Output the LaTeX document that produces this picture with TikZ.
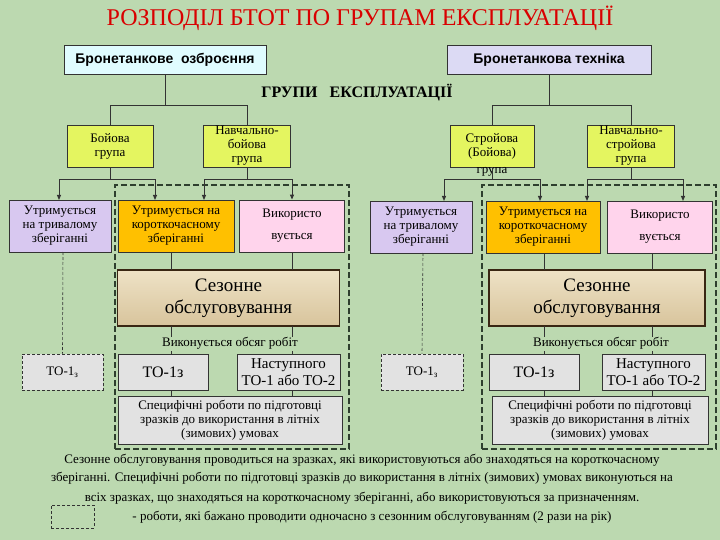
\documentclass[tikz,border=0pt]{standalone}
\usepackage{fontspec}
\setmainfont{Liberation Serif}
\setsansfont{Liberation Sans}
\usetikzlibrary{arrows.meta}
\definecolor{bg}{HTML}{BCD9B0}
\definecolor{cyanbox}{HTML}{E0FCFF}
\definecolor{lavbox}{HTML}{DCDAF4}
\definecolor{grp}{HTML}{E4F560}
\definecolor{lil}{HTML}{D8C8F0}
\definecolor{org}{HTML}{FFC000}
\definecolor{pnk}{HTML}{FFD4EC}
\definecolor{gry}{HTML}{E2E2E2}
\definecolor{tan}{HTML}{EEE2C6}
\definecolor{tand}{HTML}{D8C49C}
\definecolor{dk}{HTML}{2E3F2E}
\begin{document}
\begin{tikzpicture}[x=1pt,y=-1pt,
 box/.style={draw=black!80,line width=0.8pt,align=center,inner sep=1pt,font=\fontsize{13}{14}\selectfont},
 ln/.style={draw=black!80,line width=0.7pt},
 arr/.style={ln,line width=1pt,-{Triangle[length=5pt,width=4pt]}},
 dsh/.style={draw=dk,line width=1.4pt,dash pattern=on 6pt off 3pt},
 tdsh/.style={draw=black!80,line width=0.6pt,dash pattern=on 3pt off 2pt},
 ft/.style={font=\fontsize{13}{13}\selectfont}]
\useasboundingbox (0,0) rectangle (720,540);
\fill[bg] (0,0) rectangle (720,540);
\node[text=red!85!black,font=\fontsize{24}{24}\selectfont] (title) at (360,18) {РОЗПОДІЛ БТОТ ПО ГРУПАМ ЕКСПЛУАТАЦІЇ};
\node[box,fill=cyanbox,font=\sffamily\bfseries\fontsize{14}{14}\selectfont,minimum width=202pt,minimum height=29pt] (ba) at (165,59.5) {Бронетанкове\ \ озброєння};
\node[box,fill=lavbox,font=\sffamily\bfseries\fontsize{14}{14}\selectfont,minimum width=204pt,minimum height=29pt] (bt) at (549,59.5) {Бронетанкова техніка};
\node[font=\bfseries\fontsize{16}{16}\selectfont] (gr) at (357,93) {ГРУПИ\ \ \ ЕКСПЛУАТАЦІЇ};
% group boxes
\node[box,fill=grp,minimum width=86pt,minimum height=42pt] (g1) at (110,146) {Бойова\\група};
\node[box,fill=grp,minimum width=87pt,minimum height=42pt] (g2) at (247,146) {Навчально-\\бойова\\група};
\node[box,fill=grp,minimum width=84pt,minimum height=42pt] (g3) at (492,146) {Стройова\\(Бойова)};
\node[ft] (g3l) at (492,172) {група};
\node[box,fill=grp,minimum width=87pt,minimum height=42pt] (g4) at (631,146) {Навчально-\\стройова\\група};
\draw[ln] (ba.south) -- ++(0,31) coordinate (j1);
\draw[ln] (g1.north) |- (j1) -| (g2.north);
\draw[ln] (bt.south) -- ++(0,31) coordinate (j2);
\draw[ln] (g3.north) |- (j2) -| (g4.north);
% dashed regions
\node[dsh,minimum width=234pt,minimum height=264pt] (dl) at (232,317) {};
\node[dsh,minimum width=234pt,minimum height=264pt] (dr) at (599,317) {};
% row boxes
\node[box,fill=lil,minimum width=102pt,minimum height=52pt] (a1) at (60,226) {Утримується\\на тривалому\\зберіганні};
\node[box,fill=org,minimum width=116pt,minimum height=52pt] (a2) at (176,226) {Утримується на\\короткочасному\\зберіганні};
\node[box,fill=pnk,minimum width=105pt,minimum height=52pt] (a3) at (292,226) {Використо\\\rule{0pt}{18pt}вується};
\node[box,fill=lil,minimum width=102pt,minimum height=52pt] (b1) at (421,227) {Утримується\\на тривалому\\зберіганні};
\node[box,fill=org,minimum width=114pt,minimum height=52pt] (b2) at (543,227) {Утримується на\\короткочасному\\зберіганні};
\node[box,fill=pnk,minimum width=105pt,minimum height=52pt] (b3) at (660,227) {Використо\\\rule{0pt}{18pt}вується};
% arrows
\draw[ln,line width=1pt] (g1.south) -- (110,180) coordinate (k1);
\draw[arr] (k1) -| (59,200);
\draw[arr] (k1) -| (155,200);
\draw[ln,line width=1pt] (g2.south) -- (247,180) coordinate (k2);
\draw[arr] (k2) -| (204,200);
\draw[arr] (k2) -| (a3.north);
\draw[ln,line width=1pt] (g3.south) -- (492,180) coordinate (k3);
\draw[arr] (k3) -| (444,201);
\draw[arr] (k3) -| (540,201);
\draw[ln,line width=1pt] (g4.south) -- (631,180) coordinate (k4);
\draw[arr] (k4) -| (587,201);
\draw[arr] (k4) -| (683,201);
% seasonal
\node[box,top color=tan,bottom color=tand,draw=black!70!brown,line width=1.2pt,minimum width=222pt,minimum height=56pt,font=\fontsize{19}{22}\selectfont] (s1) at (228.5,298) {Сезонне\\обслуговування};
\node[box,top color=tan,bottom color=tand,draw=black!70!brown,line width=1.2pt,minimum width=216pt,minimum height=56pt,font=\fontsize{19}{22}\selectfont] (s2) at (597,298) {Сезонне\\обслуговування};
\draw[ln] (171,252) -- (171,270);
\draw[ln] (a3.south) -- (292,270);
\draw[ln] (544,253) -- (544,270);
\draw[ln] (652,253) -- (652,270);
\node[ft,fill=bg,inner sep=0.5pt] (v1) at (230,343) {Виконується обсяг робіт};
\node[ft,fill=bg,inner sep=0.5pt] (v2) at (601,343) {Виконується обсяг робіт};
% TO boxes
\node[box,fill=gry,tdsh,minimum width=81pt,minimum height=36pt] (t1) at (62.5,372) {ТО-1\textsubscript{з}};
\node[box,fill=gry,tdsh,minimum width=82pt,minimum height=36pt] (t4) at (422,372) {ТО-1\textsubscript{з}};
\node[box,fill=gry,minimum width=90pt,minimum height=36pt,font=\fontsize{16}{16}\selectfont] (t2) at (163,372) {ТО-1з};
\node[box,fill=gry,minimum width=103pt,minimum height=36pt,font=\fontsize{15}{17}\selectfont,inner sep=0pt] (t3) at (288.5,372) {Наступного\\ТО-1 або ТО-2};
\node[box,fill=gry,minimum width=90pt,minimum height=36pt,font=\fontsize{16}{16}\selectfont] (t5) at (534,372) {ТО-1з};
\node[box,fill=gry,minimum width=103pt,minimum height=36pt,font=\fontsize{15}{17}\selectfont,inner sep=0pt] (t6) at (653.5,372) {Наступного\\ТО-1 або ТО-2};
\draw[tdsh] (63,252) -- (t1.north);
\draw[tdsh] (423,253) -- (t4.north);
\draw[ln] (171,326) -- (171,337);
\draw[ln] (171,351) -- (171,354);
\draw[ln] (292,326) -- (292,337);
\draw[ln] (292,351) -- (292,354);
\draw[ln] (544,326) -- (544,337);
\draw[ln] (652,326) -- (652,337);
\draw[ln] (544,351) -- (544,354);
\draw[ln] (652,351) -- (652,354);
% specific
\node[box,fill=gry,minimum width=224pt,minimum height=48pt] (p1) at (230,420) {Специфічні роботи по підготовці\\зразків до використання в літніх\\(зимових) умовах};
\node[box,fill=gry,minimum width=216pt,minimum height=48pt] (p2) at (600,420) {Специфічні роботи по підготовці\\зразків до використання в літніх\\(зимових) умовах};
\draw[ln] (171,390) -- (171,396);
\draw[ln] (292,390) -- (292,396);
\draw[ln] (544,390) -- (544,396);
\draw[ln] (652,390) -- (652,396);
% footer
\node[ft] (f1) at (362,460) {Сезонне обслуговування проводиться на зразках, які використовуються або знаходяться на короткочасному};
\node[ft] (f2) at (362,478) {зберіганні. Специфічні роботи по підготовці зразків до використання в літніх (зимових) умовах виконуються на};
\node[ft] (f3) at (362,498) {всіх зразках, що знаходяться на короткочасному зберіганні, або використовуються за призначенням.};
\node[tdsh,minimum width=43pt,minimum height=23pt] (lg) at (72.5,516.5) {};
\node[ft] (f4) at (372,517) {- роботи, які бажано проводити одночасно з сезонним обслуговуванням (2 рази на рік)};
\end{tikzpicture}
\end{document}
